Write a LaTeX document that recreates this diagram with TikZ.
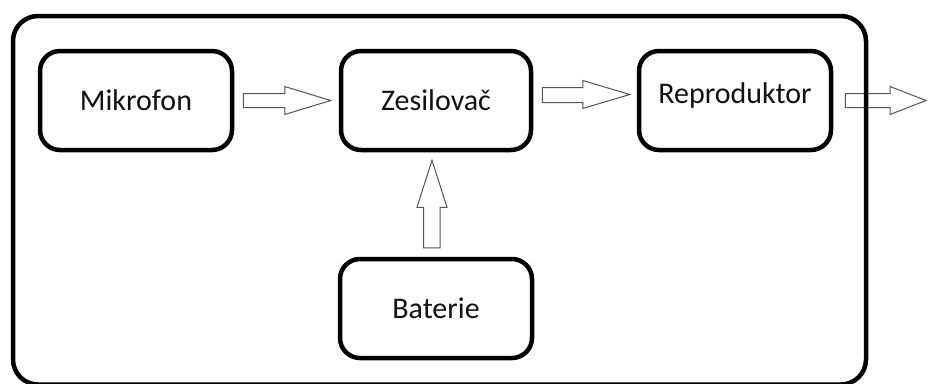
\documentclass[tikz,border=0pt]{standalone}
\usepackage{fontspec}
\setmainfont{Carlito}
\usetikzlibrary{calc}
\definecolor{txt}{HTML}{111111}
\definecolor{arr}{HTML}{555555}
\tikzset{
  blk/.style={draw=black, line width=4.5pt, rounded corners=20pt, fill=white,
    minimum height=99pt, inner sep=0pt, text=txt,
    font=\fontsize{30}{36}\selectfont, text height=20pt, text depth=0pt},
  barrow/.style={draw=arr, line width=1pt, fill=white, line join=miter},
  frame/.style={draw=black, line width=4.5pt, rounded corners=25pt}
}
\begin{document}
\begin{tikzpicture}[x=1pt,y=-1pt]
\useasboundingbox (0,0) rectangle (928,383);
\fill[white] (0,0) rectangle (928,383);
\node[blk, minimum width=192pt] (mik) at (136,100.5) {Mikrofon};
\node[blk, minimum width=190pt] (zes) at (436,100.5) {Zesilovač};
\node[blk, minimum width=192pt, text depth=14pt, text height=20pt] (rep) at (735,100.5) {Reproduktor};
\node[blk, minimum width=192pt] (bat) at (436,308.5) {Baterie};
\coordinate (out) at (926,100.5);
% Mikrofon -> Zesilovac
\draw[barrow] let \p1=(mik.east), \p2=(zes.west) in
  (\x1+9pt,\y1+7pt) -- (\x2-54pt,\y1+7pt) -- (\x2-54pt,\y1+14pt) -- (\x2-8pt,\y1)
  -- (\x2-54pt,\y1-14pt) -- (\x2-54pt,\y1-7pt) -- (\x1+9pt,\y1-7pt) -- cycle;
% Zesilovac -> Reproduktor
\draw[barrow] let \p1=(zes.east), \p2=(rep.west) in
  (\x1+9pt,\y1+13pt) -- (\x2-54pt,\y1+13pt) -- (\x2-54pt,\y1+20pt) -- (\x2-7pt,\y1+6pt)
  -- (\x2-54pt,\y1-8pt) -- (\x2-54pt,\y1-2pt) -- (\x1+9pt,\y1-2pt) -- cycle;
% Reproduktor -> out
\draw[barrow] let \p1=(rep.east), \p2=(out) in
  (\x1+12pt,\y1+7pt) -- (\x2-36pt,\y1+7pt) -- (\x2-36pt,\y1+14pt) -- (\x2,\y1)
  -- (\x2-36pt,\y1-14pt) -- (\x2-36pt,\y1-7pt) -- (\x1+12pt,\y1-7pt) -- cycle;
% Baterie -> Zesilovac
\draw[barrow] let \p1=(bat.north), \p2=(zes.south) in
  (\x1-12.5pt,\y1+9pt) -- (\x1-12.5pt,\y2-55pt) -- (\x1-19pt,\y2-55pt) -- (\x1-4pt,\y2-8pt)
  -- (\x1+11pt,\y2-55pt) -- (\x1+4pt,\y2-55pt) -- (\x1+4pt,\y1+9pt) -- cycle;
% outer frame, drawn over the output arrow
\draw[frame] (13,16) rectangle (866,384.5);
\end{tikzpicture}
\end{document}
